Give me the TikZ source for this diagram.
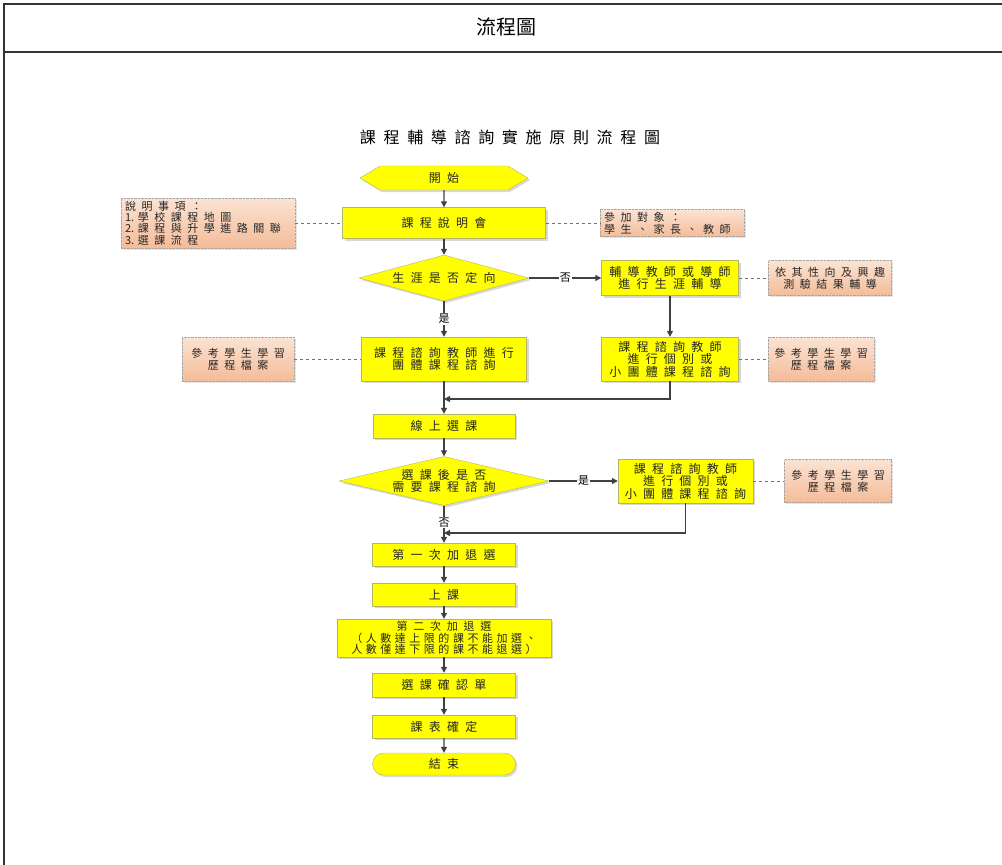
\documentclass[tikz,border=0pt]{standalone}
\usepackage{fontspec}
\setmainfont{Noto Sans CJK TC}
\newfontfamily\cjkbox[LetterSpace=52]{Noto Sans CJK TC}
\newfontfamily\cjknote[LetterSpace=50]{Noto Sans CJK TC}
\newfontfamily\cjktight[LetterSpace=32]{Noto Sans CJK TC}
\newfontfamily\cjkhead[LetterSpace=48]{Noto Sans CJK TC}
\usepackage{tikz}
\usetikzlibrary{shapes.geometric, shapes.symbols, shapes.misc, arrows.meta, shadows}

\definecolor{boxyellow}{HTML}{FFFF00}
\definecolor{boxedge}{HTML}{B5B56A}
\definecolor{peachtop}{HTML}{FBE3D3}
\definecolor{peachbot}{HTML}{F4BC98}
\definecolor{noteedge}{HTML}{A6A6A6}
\definecolor{linegray}{HTML}{404040}
\definecolor{framegray}{HTML}{333333}

\begin{document}
\begin{tikzpicture}[
    x=1pt, y=-1pt,
    yellowbox/.style={rectangle, draw=boxedge, fill=boxyellow, inner sep=0pt, align=center, text=black!85,
        drop shadow={shadow xshift=2pt, shadow yshift=-2pt, fill=black!30, opacity=0.5},
        font=\fontsize{12pt}{12.5pt}\cjkbox},
    decision/.style={yellowbox, diamond, font=\fontsize{12pt}{12pt}\cjkbox},
    startbox/.style={yellowbox, signal, signal to=east and west, signal pointer angle=62},
    endbox/.style={yellowbox, rounded rectangle},
    notebox/.style={rectangle, draw=noteedge, densely dotted, top color=peachtop, bottom color=peachbot,
        inner sep=0pt, align=center, text=black!85,
        drop shadow={shadow xshift=1.5pt, shadow yshift=-1.5pt, fill=black!20, opacity=0.5},
        font=\fontsize{11pt}{12pt}\cjknote},
    yesno/.style={fill=white, inner sep=1pt, font=\fontsize{11pt}{12pt}\selectfont},
    arrow/.style={-{Triangle[length=6pt,width=6pt]}, draw=linegray, line width=1.2pt},
    dashline/.style={draw=black!55, dashed, line width=0.9pt},
    frame/.style={draw=framegray, line width=2pt}
]
\useasboundingbox (0,0) rectangle (1002,865);

% Frame and headings
\draw[frame] (4,865) -- (4,4) -- (1002,4);
\draw[frame] (4,52) -- (1002,52);
\node[font=\fontsize{20pt}{24pt}\selectfont] (head) at (506,27) {流程圖};
\node[font=\fontsize{16pt}{18pt}\cjkhead] (title) at (510,137) {課程輔導諮詢實施原則流程圖};

% Main column
\node[startbox, minimum width=168pt, minimum height=24pt] (start) at (444,178) {開始};
\node[yellowbox, minimum width=203pt, minimum height=31pt] (talk) at (444,223) {課程說明會};
\node[decision, minimum width=170pt, minimum height=46pt, aspect=3.7] (career) at (444,278) {生涯是否定向};
\node[yellowbox, minimum width=165pt, minimum height=44pt] (group) at (444,359) {課程諮詢教師進行\\團體課程諮詢};
\node[yellowbox, minimum width=142pt, minimum height=24pt] (online) at (444,426) {線上選課};
\node[decision, minimum width=210pt, minimum height=49pt, aspect=4.3] (need) at (444,481) {選課後是否\\需要課程諮詢};
\node[yellowbox, minimum width=143pt, minimum height=23pt] (first) at (444,554.5) {第一次加退選};
\node[yellowbox, minimum width=143pt, minimum height=23pt] (lesson) at (444,594.5) {上課};
\node[yellowbox, minimum width=214pt, minimum height=38pt, font=\fontsize{11pt}{11.7pt}\cjkbox] (second) at (444,638)
    {第二次加退選\\{\cjktight（人數達上限的課不能加選、}\\{\cjktight 人數僅達下限的課不能退選）}};
\node[yellowbox, minimum width=143pt, minimum height=24pt] (confirm) at (444,685) {選課確認單};
\node[yellowbox, minimum width=143pt, minimum height=23pt] (table) at (444,726.5) {課表確定};
\node[endbox, minimum width=143pt, minimum height=22pt] (end) at (444,764) {結束};

% Side branches
\node[yellowbox, minimum width=137pt, minimum height=35pt] (guide) at (670,278) {輔導教師或導師\\進行生涯輔導};
\node[yellowbox, minimum width=137pt, minimum height=44pt] (single) at (670,359) {課程諮詢教師\\進行個別或\\小團體課程諮詢};
\node[yellowbox, minimum width=135pt, minimum height=44pt] (single2) at (685.5,481) {課程諮詢教師\\進行個別或\\小團體課程諮詢};

% Notes
\node[notebox, text width=166pt, inner xsep=4pt, align=left, minimum height=50pt, font=\fontsize{11pt}{11.4pt}\cjknote] (items) at (208,223)
    {說明事項：\\{\rmfamily 1.}~學校課程地圖\\{\rmfamily 2.}~課程與升學進路關聯\\{\rmfamily 3.}~選課流程};
\node[notebox, text width=136pt, inner xsep=4pt, align=left, minimum height=27pt] (who) at (672,223) {參加對象：\\學生、家長、教師};
\node[notebox, minimum width=123pt, minimum height=35pt] (trait) at (830,278) {依其性向及興趣\\測驗結果輔導};
\node[notebox, minimum width=112pt, minimum height=44pt] (record1) at (238,359) {參考學生學習\\歷程檔案};
\node[notebox, minimum width=106pt, minimum height=44pt] (record2) at (821,359) {參考學生學習\\歷程檔案};
\node[notebox, minimum width=107pt, minimum height=43pt] (record3) at (838,481) {參考學生學習\\歷程檔案};

\coordinate (join1) at (444,399);
\coordinate (join2) at (444,533);

% Arrows
\draw[arrow] (start) -- (talk);
\draw[arrow] (talk) -- (career);
\draw[arrow] (career) -- node[yesno] {是} (group);
\draw[arrow] (career) -- node[yesno] {否} (guide);
\draw[arrow] (guide) -- (single);
\draw[arrow] (single) |- (join1);
\draw[arrow] (group) -- (online);
\draw[arrow] (online) -- (need);
\draw[arrow] (need) -- node[yesno] {是} (single2);
\draw[arrow] (need) -- node[yesno, pos=0.45] {否} (first);
\draw[arrow] (single2) |- (join2);
\draw[arrow] (first) -- (lesson);
\draw[arrow] (lesson) -- (second);
\draw[arrow] (second) -- (confirm);
\draw[arrow] (confirm) -- (table);
\draw[arrow] (table) -- (end);

% Dashed links to notes
\draw[dashline] (items) -- (talk);
\draw[dashline] (talk) -- (who);
\draw[dashline] (guide) -- (trait);
\draw[dashline] (record1) -- (group);
\draw[dashline] (single) -- (record2);
\draw[dashline] (single2) -- (record3);

\end{tikzpicture}
\end{document}
